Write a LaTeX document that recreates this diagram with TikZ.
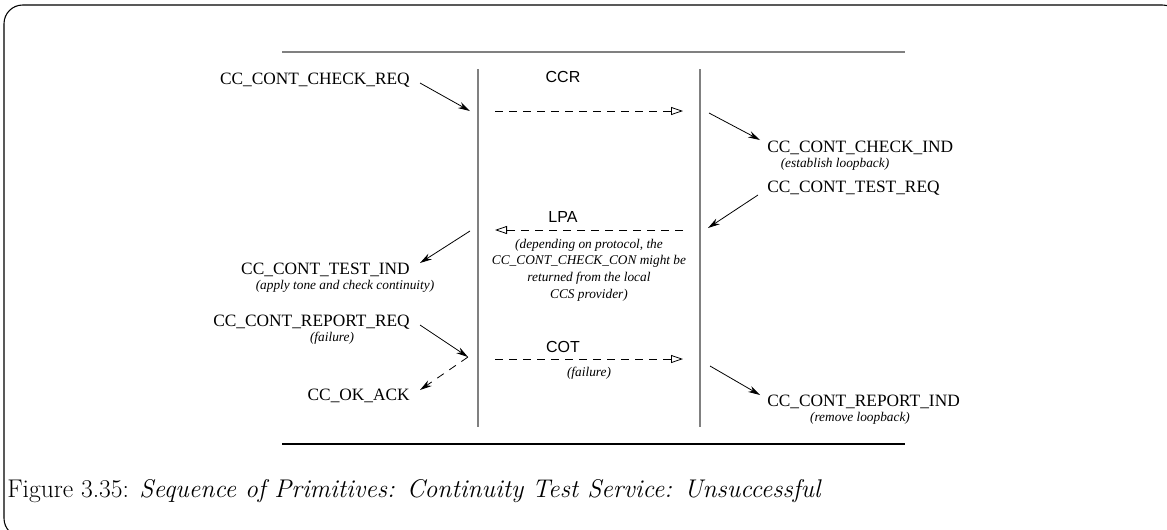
\documentclass[tikz,border=0pt]{standalone}
\usepackage{fontspec}
\newfontfamily\primfont{Liberation Serif}
\newfontfamily\msgfont{Liberation Sans}
\usetikzlibrary{arrows.meta}
\begin{document}
\begin{tikzpicture}[
            x=0.75pt, y=-0.75pt,
            prim/.style={inner sep=0pt, font=\primfont\fontsize{13}{15}\selectfont},
            note/.style={inner sep=0pt, align=center, font=\primfont\itshape\fontsize{10}{12.5}\selectfont},
            msg/.style={inner sep=0pt, font=\msgfont\fontsize{12}{14}\selectfont},
            call/.style={-{Stealth[length=9pt,width=5pt]}, line width=0.6pt},
            reply/.style={call, dash pattern=on 6pt off 5pt},
            signal/.style={-{Triangle[open,length=9pt,width=6pt]}, line width=0.6pt, dash pattern=on 6pt off 4.5pt},
            rule/.style={line width=1.2pt}
            ]
            \useasboundingbox (0,0) rectangle (1167,529);
            \draw[line width=0.8pt, rounded corners=14pt] (4,5) rectangle (1181,537);

            % frame rules and the two sides
            \draw[rule, gray] (282,52) -- (905,52);
            \draw[rule] (282,444) -- (905,444);
            \draw[rule, gray] (478,69) -- (478,427);
            \draw[rule, gray] (700,69) -- (700,427);

            % left side primitives
            \node[prim, anchor=east] (checkreq) at (410,80) {CC\_CONT\_CHECK\_REQ};
            \node[prim, anchor=east] (testind) at (410,270) {CC\_CONT\_TEST\_IND};
            \node[note] (testindnote) at (345,286) {(apply tone and check continuity)};
            \node[prim, anchor=east] (reportreq) at (410,322) {CC\_CONT\_REPORT\_REQ};
            \node[note] (reportreqnote) at (332,338) {(failure)};
            \node[prim, anchor=east] (okack) at (410,396) {CC\_OK\_ACK};

            % right side primitives
            \node[prim, anchor=west] (checkind) at (767,148) {CC\_CONT\_CHECK\_IND};
            \node[note] (checkindnote) at (835,164) {(establish loopback)};
            \node[prim, anchor=west] (testreq) at (767,188) {CC\_CONT\_TEST\_REQ};
            \node[prim, anchor=west] (reportind) at (767,402) {CC\_CONT\_REPORT\_IND};
            \node[note] (reportindnote) at (860,418) {(remove loopback)};

            % messages between the sides
            \node[msg] (ccr) at (563,77) {CCR};
            \node[msg] (lpa) at (563,217) {LPA};
            \node[note] (lpanote) at (589,270) {(depending on protocol, the\\CC\_CONT\_CHECK\_CON might be\\returned from the local\\CCS provider)};
            \node[msg] (cot) at (563,347) {COT};
            \node[note] (cotnote) at (589,373) {(failure)};

            \coordinate (l1) at (470,111);
            \coordinate (l2) at (470,231);
            \coordinate (l3) at (468,357);
            \coordinate (r1) at (709,113);
            \coordinate (r2) at (708,228);
            \coordinate (r3) at (710,366);

            \draw[call] ([shift={(10,3)}]checkreq.east) -- (l1);
            \draw[call] (l2) -- ([shift={(10,-7)}]testind.east);
            \draw[call] ([shift={(10,3)}]reportreq.east) -- (l3);
            \draw[reply] (l3) -- ([shift={(10,-6)}]okack.east);

            \draw[call] (r1) -- ([shift={(-7,-8)}]checkind.west);
            \draw[call] ([shift={(-9,7)}]testreq.west) -- (r2);
            \draw[call] (r3) -- ([shift={(-7,-7)}]reportind.west);

            \draw[signal] (495,111) -- (683,111);
            \draw[signal] (683,230) -- (495,230);
            \draw[signal] (495,359) -- (683,359);

            \node[anchor=base west, inner sep=0pt, font=\fontsize{19.2}{23}\selectfont] (caption) at (7,497) {Figure 3.35: \textit{Sequence of Primitives: Continuity Test Service: Unsuccessful}};
            \end{tikzpicture}
\end{document}
